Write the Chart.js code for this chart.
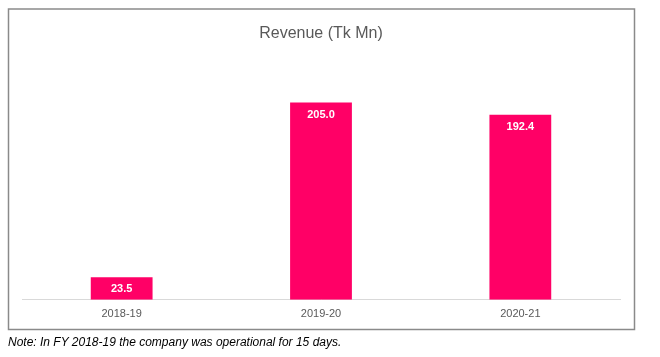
<!DOCTYPE html>
<html>
<head>
<meta charset="utf-8">
<script src="https://cdn.jsdelivr.net/npm/chart.js@4"></script>
<style>
  html, body { margin: 0; padding: 0; background: #fff; }
  #wrap { position: relative; width: 660px; height: 357px; }
  #note { position: absolute; left: 8px; top: 335px; font: italic 12px "Liberation Sans", Arial, sans-serif; color: #000; white-space: nowrap; }
</style>
</head>
<body>
<div id="wrap">
  <canvas id="c" width="660" height="357"></canvas>
  <div id="note">Note: In FY 2018-19 the company was operational for 15 days.</div>
</div>
<script>
const categories = ["2018-19", "2019-20", "2020-21"];
const revenue = [23.5, 205.0, 192.4];
const chartTitle = "Revenue (Tk Mn)";

const frame = {
  id: 'frame',
  beforeDraw(chart) {
    const ctx = chart.ctx;
    ctx.save();
    ctx.fillStyle = '#fff';
    ctx.fillRect(0, 0, chart.width, chart.height);
    ctx.strokeStyle = '#8a8a8a';
    ctx.lineWidth = 1.5;
    ctx.strokeRect(8.5, 9, 626, 320.5);
    ctx.restore();
  }
};

const valueLabels = {
  id: 'valueLabels',
  afterDatasetsDraw(chart) {
    const ctx = chart.ctx;
    const meta = chart.getDatasetMeta(0);
    ctx.save();
    ctx.fillStyle = '#fff';
    ctx.font = 'bold 11px "Liberation Sans", Arial, sans-serif';
    ctx.textAlign = 'center';
    ctx.textBaseline = 'middle';
    meta.data.forEach((bar, i) => {
      ctx.fillText(revenue[i].toFixed(1), bar.x, bar.y + 12);
    });
    ctx.restore();
  }
};

new Chart(document.getElementById('c'), {
  type: 'bar',
  data: {
    labels: categories,
    datasets: [{
      data: revenue,
      backgroundColor: '#FF0066',
      borderWidth: 0,
      barPercentage: 0.62,
      categoryPercentage: 0.5
    }]
  },
  options: {
    responsive: false,
    animation: false,
    layout: { padding: { left: 22, right: 40, top: 15, bottom: 28 } },
    plugins: {
      legend: { display: false },
      tooltip: { enabled: false },
      title: {
        display: true,
        text: chartTitle,
        color: '#595959',
        font: { family: '"Liberation Sans", Arial, sans-serif', size: 16, weight: 'normal' },
        padding: { top: 9, bottom: 16 }
      }
    },
    scales: {
      x: {
        grid: { display: false, drawTicks: false },
        border: { display: true, color: '#d9d9d9', width: 1 },
        ticks: { color: '#595959', padding: 8, font: { family: '"Liberation Sans", Arial, sans-serif', size: 11 } }
      },
      y: {
        display: false,
        min: 0,
        max: 250
      }
    }
  },
  plugins: [frame, valueLabels]
});
</script>
</body>
</html>
